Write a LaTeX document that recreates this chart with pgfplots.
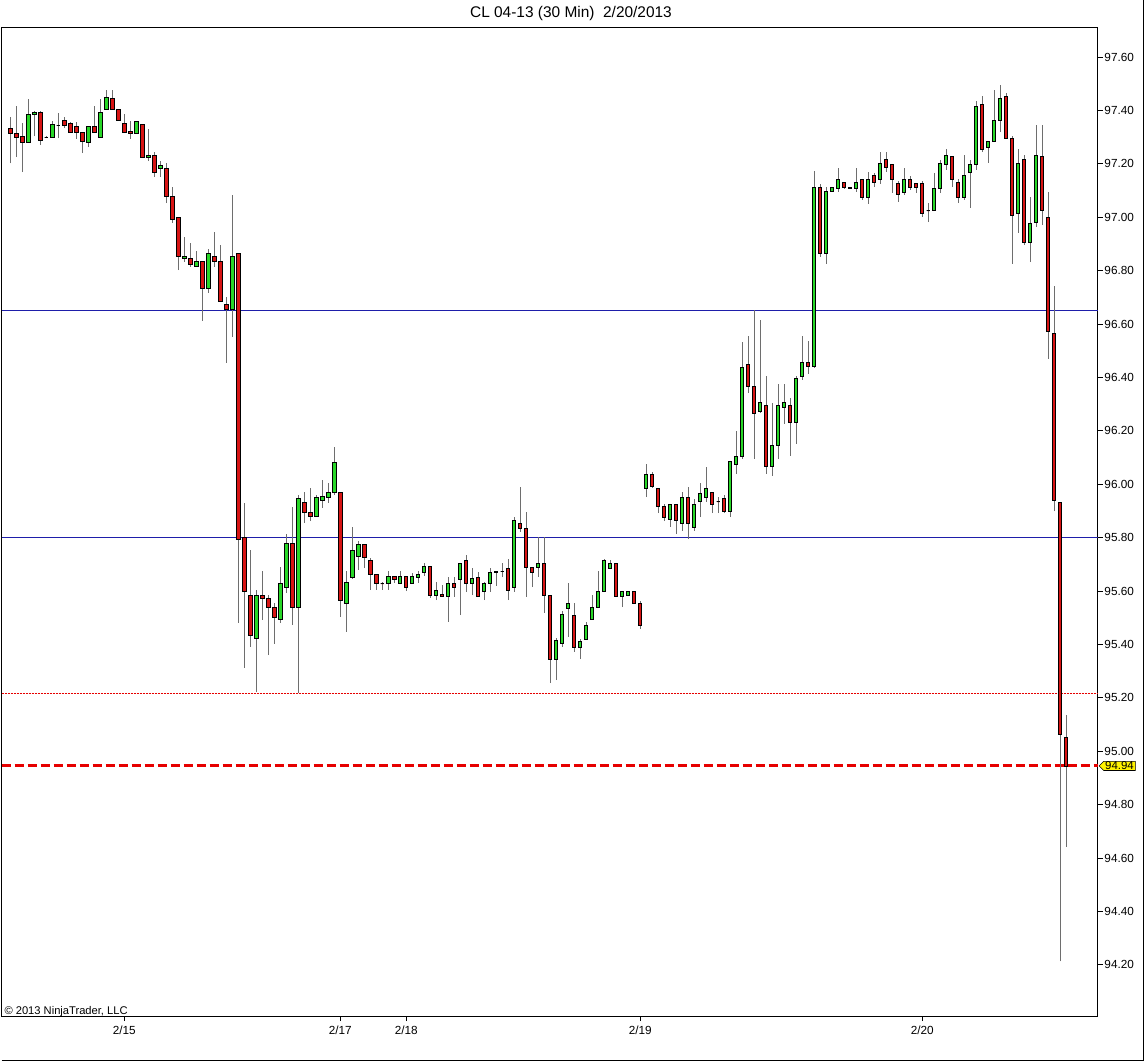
\documentclass[border=0pt]{standalone}
\usepackage{fontspec}
\setmainfont{Liberation Sans}
\usepackage{pgfplots}
\pgfplotsset{compat=1.18}
\usepackage{pgfplotstable}
\usetikzlibrary{shapes.symbols}

\definecolor{cgreen}{RGB}{40,215,40}
\definecolor{cred}{RGB}{215,20,20}
\definecolor{wick}{RGB}{110,110,110}
\definecolor{navyline}{RGB}{30,30,170}
\definecolor{lastred}{RGB}{230,0,0}

% CL 04-13, 30 min bars: index, open, high, low, close
\pgfplotstableread{
i o h l c
0 97.333 97.376 97.202 97.315
1 97.315 97.416 97.225 97.300
2 97.304 97.352 97.169 97.281
3 97.281 97.441 97.281 97.386
4 97.386 97.397 97.303 97.394
5 97.394 97.397 97.270 97.289
6 97.300 97.305 97.295 97.300
7 97.300 97.360 97.300 97.349
8 97.345 97.390 97.296 97.345
9 97.364 97.375 97.334 97.345
10 97.353 97.357 97.315 97.319
11 97.341 97.357 97.293 97.319
12 97.319 97.319 97.240 97.285
13 97.281 97.341 97.262 97.341
14 97.341 97.416 97.319 97.319
15 97.300 97.441 97.300 97.394
16 97.405 97.476 97.405 97.450
17 97.446 97.476 97.405 97.405
18 97.405 97.405 97.364 97.364
19 97.353 97.386 97.319 97.319
20 97.322 97.360 97.293 97.315
21 97.315 97.360 97.315 97.360
22 97.349 97.349 97.221 97.225
23 97.225 97.330 97.210 97.232
24 97.232 97.244 97.150 97.169
25 97.184 97.210 97.150 97.195
26 97.184 97.202 97.053 97.079
27 97.079 97.113 96.980 96.993
28 97.001 97.001 96.802 96.855
29 96.844 96.926 96.833 96.855
30 96.844 96.904 96.814 96.825
31 96.814 96.874 96.814 96.833
32 96.833 96.833 96.612 96.735
33 96.735 96.881 96.717 96.866
34 96.855 96.945 96.814 96.833
35 96.833 96.896 96.683 96.683
36 96.675 96.702 96.454 96.656
37 96.656 97.083 96.552 96.855
38 96.866 96.866 95.481 95.795
39 95.802 95.930 95.312 95.597
40 95.585 95.754 95.391 95.432
41 95.424 95.604 95.222 95.585
42 95.585 95.675 95.492 95.574
43 95.574 95.585 95.360 95.540
44 95.537 95.555 95.402 95.503
45 95.495 95.690 95.481 95.627
46 95.615 95.814 95.593 95.780
47 95.780 95.915 95.473 95.537
48 95.537 95.960 95.218 95.945
49 95.930 95.971 95.855 95.896
50 95.896 95.986 95.862 95.881
51 95.881 95.960 95.881 95.952
52 95.941 96.016 95.911 95.956
53 95.952 96.005 95.930 95.971
54 95.971 96.139 95.960 96.080
55 95.971 95.971 95.503 95.563
56 95.555 95.675 95.447 95.634
57 95.652 95.840 95.645 95.753
58 95.731 95.787 95.679 95.776
59 95.776 95.776 95.686 95.724
60 95.716 95.724 95.604 95.664
61 95.664 95.664 95.604 95.627
62 95.627 95.634 95.604 95.627
63 95.630 95.675 95.604 95.656
64 95.656 95.656 95.630 95.645
65 95.630 95.675 95.630 95.656
66 95.656 95.656 95.600 95.615
67 95.627 95.668 95.627 95.656
68 95.652 95.675 95.630 95.664
69 95.671 95.705 95.656 95.694
70 95.694 95.694 95.574 95.585
71 95.585 95.634 95.566 95.604
72 95.589 95.622 95.578 95.578
73 95.578 95.652 95.484 95.630
74 95.630 95.652 95.578 95.615
75 95.645 95.705 95.510 95.705
76 95.716 95.735 95.596 95.630
77 95.630 95.686 95.585 95.649
78 95.652 95.671 95.578 95.578
79 95.597 95.634 95.566 95.630
80 95.630 95.686 95.597 95.668
81 95.668 95.675 95.619 95.672
82 95.675 95.705 95.652 95.675
83 95.686 95.720 95.566 95.604
84 95.615 95.877 95.597 95.866
85 95.855 95.990 95.821 95.836
86 95.836 95.896 95.578 95.690
87 95.690 95.690 95.615 95.671
88 95.690 95.802 95.652 95.705
89 95.705 95.802 95.518 95.585
90 95.585 95.585 95.255 95.345
91 95.345 95.424 95.266 95.416
92 95.405 95.525 95.391 95.514
93 95.533 95.630 95.428 95.555
94 95.507 95.555 95.372 95.387
95 95.387 95.420 95.345 95.413
96 95.420 95.484 95.420 95.473
97 95.492 95.585 95.492 95.537
98 95.540 95.675 95.540 95.597
99 95.597 95.720 95.597 95.716
100 95.686 95.716 95.686 95.705
101 95.705 95.705 95.578 95.578
102 95.578 95.597 95.540 95.597
103 95.582 95.600 95.582 95.600
104 95.597 95.597 95.555 95.555
105 95.555 95.562 95.458 95.473
106 95.986 96.076 95.952 96.035
107 96.035 96.046 95.986 95.990
108 95.986 95.986 95.892 95.915
109 95.915 95.926 95.862 95.874
110 95.870 95.926 95.840 95.926
111 95.926 95.926 95.814 95.866
112 95.855 95.971 95.825 95.952
113 95.952 95.990 95.795 95.855
114 95.840 95.945 95.825 95.926
115 95.934 96.005 95.877 95.964
116 95.952 96.065 95.934 95.986
117 95.971 95.971 95.892 95.926
118 95.934 95.952 95.892 95.934
119 95.945 95.960 95.892 95.900
120 95.900 96.084 95.877 96.084
121 96.076 96.200 96.039 96.106
122 96.106 96.532 96.095 96.436
123 96.447 96.555 96.342 96.365
124 96.365 96.652 96.095 96.264
125 96.271 96.615 96.267 96.305
126 96.294 96.406 96.039 96.065
127 96.065 96.305 96.031 96.144
128 96.144 96.376 96.095 96.294
129 96.286 96.376 96.226 96.305
130 96.294 96.323 96.106 96.230
131 96.230 96.406 96.151 96.395
132 96.402 96.555 96.391 96.455
133 96.455 96.537 96.413 96.443
134 96.443 97.173 96.436 97.113
135 97.113 97.125 96.851 96.863
136 96.863 97.113 96.826 97.095
137 97.095 97.113 97.095 97.113
138 97.106 97.185 97.095 97.143
139 97.132 97.132 97.106 97.113
140 97.113 97.113 97.106 97.106
141 97.106 97.185 97.095 97.132
142 97.143 97.143 97.065 97.073
143 97.073 97.170 97.050 97.143
144 97.155 97.166 97.113 97.132
145 97.143 97.245 97.125 97.203
146 97.215 97.245 97.170 97.185
147 97.196 97.196 97.091 97.143
148 97.125 97.136 97.058 97.084
149 97.091 97.185 97.084 97.143
150 97.143 97.155 97.102 97.113
151 97.125 97.125 97.091 97.113
152 97.125 97.136 97.001 97.016
153 97.024 97.054 96.982 97.024
154 97.024 97.166 97.024 97.106
155 97.106 97.215 97.091 97.203
156 97.196 97.256 97.177 97.233
157 97.226 97.226 97.113 97.143
158 97.132 97.143 97.054 97.076
159 97.076 97.233 97.065 97.155
160 97.166 97.215 97.035 97.196
161 97.196 97.435 97.177 97.416
162 97.423 97.454 97.244 97.255
163 97.263 97.285 97.203 97.285
164 97.285 97.476 97.285 97.364
165 97.364 97.495 97.319 97.446
166 97.454 97.465 97.296 97.296
167 97.296 97.304 96.825 97.005
168 97.016 97.255 96.941 97.203
169 97.215 97.233 96.896 96.904
170 96.904 97.076 96.832 96.975
171 96.982 97.345 96.963 97.233
172 97.226 97.345 96.971 97.024
173 97.000 97.094 96.469 96.574
174 96.563 96.741 95.898 95.941
175 95.930 95.930 94.213 95.064
176 95.051 95.135 94.642 94.944
}\cl

% the price axis is drawn relative to 94.00 (labels show the real prices)
\begin{document}
\begin{tikzpicture}
\begin{axis}[
  scale only axis,
  width=1096.48bp, height=988.97bp,
  xmin=-1.467, xmax=181.28,
  ymin=0.008, ymax=3.712,
  clip=false,
  axis line style={black, line width=1bp},
  xtick={19,55,66,105,152},
  xticklabels={2/15,2/17,2/18,2/19,2/20},
  ytick={0.2,0.4,0.6,0.8,1.0,1.2,1.4,1.6,1.8,2.0,2.2,2.4,2.6,2.8,3.0,3.2,3.4,3.6},
  yticklabels={94.20,94.40,94.60,94.80,95.00,95.20,95.40,95.60,95.80,96.00,96.20,96.40,96.60,96.80,97.00,97.20,97.40,97.60},
  xtick pos=left, ytick pos=right, yticklabel pos=right,
  tick align=outside,
  major tick length=5bp,
  tick style={black, line width=0.8bp},
  tick label style={font=\fontsize{11.8}{13}\selectfont},
  yticklabel style={xshift=-2bp},
  xticklabel style={yshift=-1bp},
]

% horizontal reference lines at 96.652, 95.80, 95.218 and last price 94.945
\addplot[draw=navyline, line width=1.2bp] coordinates {(-1.467,2.652) (181.28,2.652)};
\addplot[draw=navyline, line width=1.2bp] coordinates {(-1.467,1.7995) (181.28,1.7995)};
\addplot[draw=lastred, line width=1.1bp, dash pattern=on 2bp off 1bp] coordinates {(-1.467,1.2165) (181.28,1.2165)};
\addplot[draw=lastred, line width=3bp, dash pattern=on 9bp off 4bp] coordinates {(-1.467,0.945) (181.28,0.945)};

% candles: wick + body drawn at the open of each bar (267 bp per dollar)
\addplot[
  scatter, only marks, mark=square*, mark size=0.01bp,
  visualization depends on={(\thisrow{c}-\thisrow{o})*267 \as \bodyh},
  visualization depends on={(\thisrow{h}-\thisrow{o})*267 \as \wicku},
  visualization depends on={(\thisrow{l}-\thisrow{o})*267 \as \wickl},
  scatter/@pre marker code/.code={%
    \pgfmathsetmacro\myh{\bodyh}%
    \pgfmathsetmacro\myu{\wicku}%
    \pgfmathsetmacro\myl{\wickl}%
    \draw[wick, line width=1bp] (0bp,\myl bp) -- (0bp,\myu bp);
    \ifdim\myh pt>0pt \def\bc{cgreen}\else\def\bc{cred}\fi
    \filldraw[draw=black, fill=\bc, line width=0.8bp] (-1.6bp,0bp) rectangle (1.6bp,\myh bp);
    \begin{scope}[opacity=0]},
  scatter/@post marker code/.code={\end{scope}},
] table[x=i, y expr=\thisrow{o}-94] {\cl};

% last price marker
\node[signal, signal to=west, draw=black, fill=yellow, line width=0.6bp,
  inner xsep=1.5bp, inner ysep=0.5bp, anchor=west,
  font=\fontsize{11.5}{12}\selectfont] at (axis cs:181.4,0.945) {94.94};

% title and footer
\node[font=\fontsize{15.5}{17}\selectfont] at (axis cs:93.45,3.763) {CL 04-13 (30 Min)\ \ 2/20/2013};
\node[anchor=west, inner sep=0pt, font=\fontsize{11.2}{13}\selectfont] at (axis cs:-1.0,0.026) {© 2013 NinjaTrader, LLC};

% outer frame of the picture (no top edge)
\draw[black, line width=1bp] (axis cs:-1.467,-0.1584) -- (axis cs:188.87,-0.1584) -- (axis cs:188.87,3.8116);
\path (axis cs:-1.467,3.8135) -- (axis cs:188.95,3.8135);
\end{axis}
\end{tikzpicture}
\end{document}
